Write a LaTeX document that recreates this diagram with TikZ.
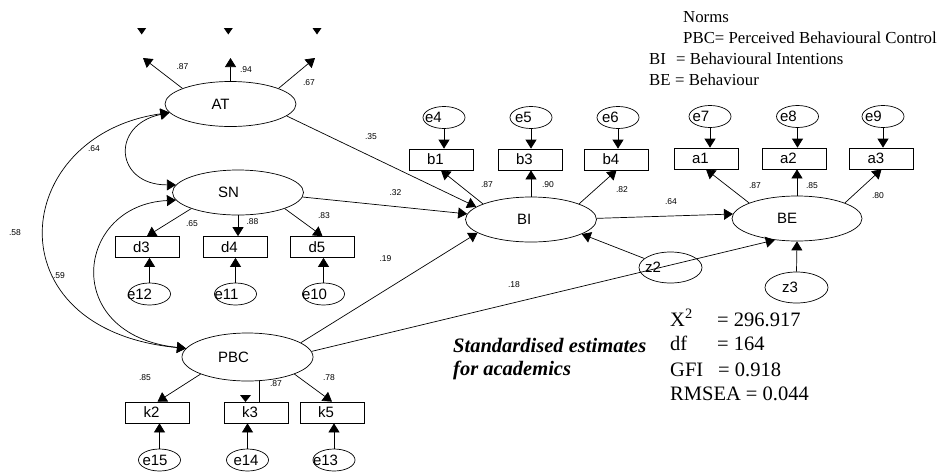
\documentclass[tikz,border=0pt]{standalone}
\usepackage{fontspec}
\setmainfont{Liberation Serif}
\setsansfont{Liberation Sans}
\usetikzlibrary{shapes.geometric, arrows.meta, positioning}

\tikzset{
  latent/.style={draw, line width=0.7pt, ellipse, minimum width=131pt, minimum height=45pt, inner sep=0pt, font=\fontsize{15}{15}\selectfont\sffamily},
  errnode/.style={draw, line width=0.7pt, ellipse, minimum width=42pt, minimum height=22pt, inner sep=0pt, font=\fontsize{15}{15}\selectfont\sffamily},
  indicator/.style={draw, line width=0.7pt, rectangle, minimum width=64pt, minimum height=21pt, inner xsep=18pt, inner ysep=0pt, text width=28pt, align=left, font=\fontsize{15}{15}\selectfont\sffamily},
  coef/.style={font=\fontsize{8.5}{8.5}\selectfont\sffamily, inner sep=0pt},
  legendtxt/.style={anchor=base west, inner sep=0pt, font=\fontsize{16.8}{16.8}\selectfont},
  fittxt/.style={anchor=base west, inner sep=0pt, font=\fontsize{20.5}{20.5}\selectfont},
  pathline/.style={line width=0.7pt, -{Triangle[length=9pt,width=11pt]}},
  covline/.style={line width=0.7pt, {Triangle[length=9pt,width=11pt]}-{Triangle[length=9pt,width=11pt]}},
}
\newcommand{\lbl}[2]{\makebox[0pt][l]{\hspace*{#1pt}#2}}

\begin{document}
\begin{tikzpicture}[x=1pt, y=-1pt]
  \useasboundingbox (0,0) rectangle (944,474);

  % latent variables
  \node[latent] (AT) at (230.5,104) {\lbl{-19}{AT}};
  \node[latent] (SN) at (238,192.5) {\lbl{-20}{SN}};
  \node[latent, minimum height=48pt] (PBC) at (247.5,357) {\lbl{-29.5}{PBC}};
  \node[latent] (BI) at (531,219.5) {\lbl{-14}{BI}};
  \node[latent, minimum width=130pt] (BE) at (797,218.5) {\lbl{-20}{BE}};
  \node[errnode, minimum width=63pt, minimum height=31pt] (z2) at (670.5,267.5) {\lbl{-25.5}{z2}};
  \node[errnode, minimum width=63pt, minimum height=31pt] (z3) at (796.5,287.5) {\lbl{-14.5}{z3}};

  % observed items
  \foreach \nm/\x/\y in {d3/147/247, d4/235/247, d5/322.5/247,
      k2/157.5/412.5, k3/256/412.5, k5/332/412.5,
      b1/441/159.5, b3/530/159.5, b4/616.5/159.5,
      a1/706/158.5, a2/794/158.5, a3/881.5/158.5}
    \node[indicator] (\nm) at (\x,\y) {\nm};

  % error terms
  \foreach \nm/\x/\y/\dx in {e12/149.5/294/-22.5, e11/235.5/294/-21, e10/323.5/294/-21.5,
      e15/159.5/460/-17, e14/247.5/460/-14, e13/334/460/-21,
      e4/444/117.5/-19, e5/531/117.5/-16, e6/618/117.5/-16,
      e7/710/116.5/-17.5, e8/797.5/116.5/-17.5, e9/883/116.5/-18}
    \node[errnode] (\nm) at (\x,\y) {\lbl{\dx}{\nm}};

  \foreach \e/\v in {e12/d3, e11/d4, e10/d5, e15/k2, e14/k3, e13/k5}
    \draw[pathline] (\e.north) -- (\e.north |- \v.south);
  \foreach \e/\v in {e4/b1, e5/b3, e6/b4, e7/a1, e8/a2, e9/a3}
    \draw[pathline] (\e.south) -- (\e.south |- \v.north);

  % AT items (cut off)
  \coordinate (t1) at (143,58);
  \coordinate (t2) at (230.5,58);
  \coordinate (t3) at (315,58);
  \draw[pathline] (AT.162) -- (t1);
  \draw[pathline] (AT.north) -- (t2);
  \draw[pathline] (AT.18) -- (t3);
  \foreach \x in {141.7, 228.3, 317}
    \fill (\x-4.5,28) -- (\x+4.5,28) -- (\x,34.5) -- cycle;

  % loadings
  \draw[pathline] (SN.-161) -- (d3.north);
  \draw[pathline] (SN.south) -- (SN.south |- d4.north);
  \draw[pathline] (SN.-19) -- (d5.north);
  \draw[pathline] (PBC.-160) -- (k2.north);
  \draw[line width=0.7pt] (PBC.-64) -- (PBC.-64 |- k3.north);
  \fill (240,395) -- (251,395) -- (245.5,402) -- cycle;
  \draw[pathline] (PBC.-20) -- (k5.north);
  \draw[pathline] (BI.162) -- (b1.south);
  \draw[pathline] (BI.north) -- (BI.north |- b3.south);
  \draw[pathline] (BI.18) -- (b4.south);
  \draw[pathline] (BE.162) -- (a1.south);
  \draw[pathline] (BE.north) -- (BE.north |- a2.south);
  \draw[pathline] (BE.18) -- (a3.south);

  % structural paths
  \draw[pathline] (AT.-12) -- (BI.167);
  \draw[pathline] (SN.-4) -- (BI.175);
  \draw[pathline] (PBC.15) -- (BI.-166);
  \draw[pathline] (z2.161) -- (BI.-16);
  \draw[pathline] (BI.1) -- (BE.176);
  \draw[pathline] (PBC.5) -- (BE.-136);
  \draw[pathline] (z3.north) -- (BE.south);

  % correlations
  \draw[covline] (AT.188) .. controls (10,135) and (-10,330) .. (PBC.172);
  \draw[covline] (AT.188) .. controls (110,125) and (115,185) .. (SN.173);
  \draw[covline] (SN.187) .. controls (75,205) and (60,335) .. (PBC.172);

  % estimates
  \foreach \t/\x/\y [count=\i] in {.87/182.5/67, .94/246/70, .67/309/83,
      .64/94/149, .58/15/233, .59/59/276, .35/371/137, .32/395.5/193,
      .19/385.5/259, .65/192/224, .88/252.5/222, .83/324/216,
      .85/145/378, .87/276/384, .78/329/378, .87/487/185, .90/548/185,
      .82/622/190, .64/671/202, .87/755/186, .85/812/186, .80/878/196,
      .18/514/285}
    \node[coef] (c\i) at (\x,\y) {\t};

  % legend
  \node[legendtxt] (n1) at (683,22.5) {Norms};
  \node[legendtxt] (n2) at (683,43.5) {PBC= Perceived Behavioural Control};
  \node[legendtxt] (n3) at (649,64) {\makebox[27pt][l]{BI}= Behavioural Intentions};
  \node[legendtxt] (n4) at (649,85) {\makebox[26pt][l]{BE}= Behaviour};

  % fit
  \node[fittxt, font=\fontsize{20.5}{20.5}\selectfont\bfseries\itshape] (title1) at (453,352) {Standardised estimates};
  \node[fittxt, font=\fontsize{20.5}{20.5}\selectfont\bfseries\itshape] (title2) at (453,375) {for academics};
  \node[fittxt] (f1) at (670,326) {\makebox[47pt][l]{X\textsuperscript{2}}= 296.917};
  \node[fittxt] (f2) at (670,350) {\makebox[47pt][l]{df}= 164};
  \node[fittxt] (f3) at (670,376) {\makebox[48pt][l]{GFI}= 0.918};
  \node[fittxt] (f4) at (670,400) {RMSEA = 0.044};
\end{tikzpicture}
\end{document}
